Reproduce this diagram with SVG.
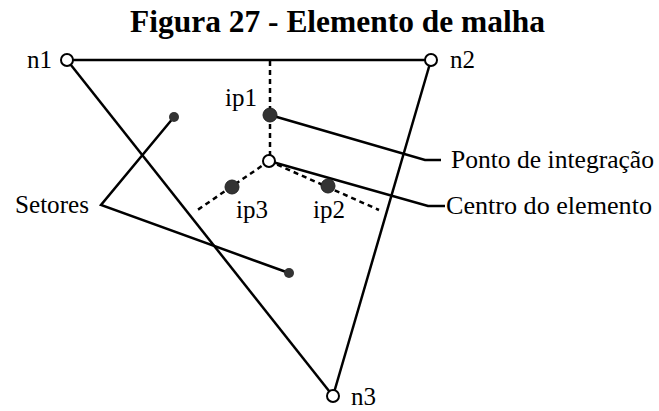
<svg xmlns="http://www.w3.org/2000/svg" width="659" height="411" viewBox="0 0 659 411">
<style>
.lbl{font-family:"Liberation Serif","Times New Roman",serif;font-size:25px;fill:#000}
.ttl{font-family:"Liberation Serif","Times New Roman",serif;font-size:31px;font-weight:bold;fill:#000}
.ln{stroke:#000;stroke-width:2.5;fill:none;stroke-linecap:butt}
.dash{stroke:#000;stroke-width:2.5;fill:none;stroke-dasharray:5 4}
.node{fill:#fff;stroke:#000;stroke-width:2}
.ip{fill:#333;stroke:#222;stroke-width:1}
.sec{fill:#333}
</style>
<rect width="659" height="411" fill="#fff"/>
<text class="ttl" x="337.5" y="32" text-anchor="middle" textLength="415" lengthAdjust="spacingAndGlyphs">Figura 27 - Elemento de malha</text>
<g id="connectors">
<line class="ln" x1="67" y1="60" x2="431" y2="60"/>
<line class="ln" x1="67" y1="60" x2="333" y2="396"/>
<line class="ln" x1="431" y1="60" x2="333" y2="396"/>
<line class="dash" x1="270" y1="61" x2="270" y2="155"/>
<line class="dash" x1="269" y1="161" x2="196" y2="211"/>
<line class="dash" x1="269" y1="161" x2="379" y2="210"/>
<polyline class="ln" points="270,115 425,160 441,160"/>
<polyline class="ln" points="269,161 428,206 445,206"/>
<polyline class="ln" points="174,117 101,205 289,273"/>
</g>
<g id="n1"><circle class="node" cx="67" cy="60" r="6"/><text class="lbl" x="27" y="68">n1</text></g>
<g id="n2"><circle class="node" cx="431" cy="60" r="6"/><text class="lbl" x="450" y="68">n2</text></g>
<g id="n3"><circle class="node" cx="333" cy="396" r="6"/><text class="lbl" x="351" y="405">n3</text></g>
<g id="center"><circle class="node" cx="269" cy="161" r="6"/></g>
<g id="ip1"><circle class="ip" cx="270" cy="115" r="7"/><text class="lbl" x="225" y="106">ip1</text></g>
<g id="ip2"><circle class="ip" cx="328" cy="186" r="7"/><text class="lbl" x="313" y="218">ip2</text></g>
<g id="ip3"><circle class="ip" cx="232" cy="187" r="7"/><text class="lbl" x="236" y="218">ip3</text></g>
<g id="sector1"><circle class="sec" cx="174" cy="117" r="5"/></g>
<g id="sector2"><circle class="sec" cx="289" cy="273" r="5"/></g>
<g id="setores"><text class="lbl" x="15" y="213" textLength="74" lengthAdjust="spacingAndGlyphs">Setores</text></g>
<g id="ponto"><text class="lbl" x="451" y="168" textLength="203" lengthAdjust="spacingAndGlyphs">Ponto de integração</text></g>
<g id="centro"><text class="lbl" x="446" y="214" textLength="206" lengthAdjust="spacingAndGlyphs">Centro do elemento</text></g>
</svg>
